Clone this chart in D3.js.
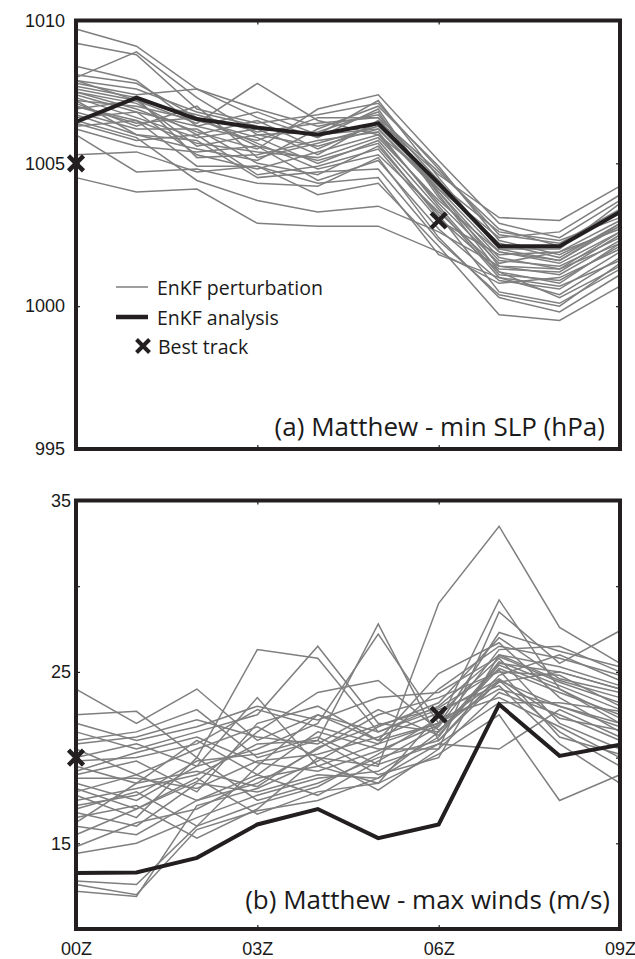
<!DOCTYPE html>
<html><head><meta charset="utf-8">
<script src="https://cdn.jsdelivr.net/npm/d3@7"></script>
<style>
body{margin:0;background:#fff;}
svg{display:block;}
</style></head><body>
<svg id="chart" width="635" height="959"></svg>
<script>
// ---- DATA ----
const hours = [0,1,2,3,4,5,6,7,8,9];
const xTickValues = [0,3,6,9];
const xTickLabels = ["00Z","03Z","06Z","09Z"];

const slpTicks = [995,1000,1005,1010];
const slpTickLabels = ["995","1000","1005","1010"];
const windTicks = [15,20,25,30,35];
const windTickLabels = {15:"15",25:"25",35:"35"};

const slpAnalysis = [1006.45,1007.3,1006.55,1006.25,1006.0,1006.4,1004.3,1002.1,1002.1,1003.3];
const slpBest = [[0,1005.0],[6,1003.0]];
const slpMembers = [
 [1009.7,1009.1,1007.6,1006.9,1006.3,1006.7,1004.4,1002.0,1001.6,1002.9],
 [1009.2,1008.8,1006.9,1006.4,1006.7,1007.1,1004.8,1002.5,1002.2,1003.4],
 [1008.0,1008.9,1007.3,1006.0,1005.6,1006.2,1004.0,1001.7,1001.3,1002.6],
 [1007.8,1007.4,1007.6,1006.6,1005.9,1006.9,1003.9,1001.2,1000.8,1002.2],
 [1007.6,1007.2,1006.4,1007.8,1006.5,1006.0,1003.6,1001.5,1001.9,1003.0],
 [1007.5,1006.9,1006.1,1005.5,1006.9,1007.4,1005.1,1002.9,1002.4,1003.7],
 [1007.3,1006.6,1005.9,1006.2,1005.3,1006.5,1004.6,1003.1,1003.0,1004.2],
 [1007.2,1007.0,1006.5,1005.9,1005.0,1005.8,1003.4,1001.0,1000.4,1001.7],
 [1007.1,1006.3,1007.0,1005.2,1005.7,1006.3,1004.2,1002.2,1001.7,1002.9],
 [1006.9,1007.2,1005.6,1006.0,1006.1,1006.8,1003.8,1001.6,1001.4,1002.4],
 [1006.8,1006.2,1006.2,1005.0,1004.6,1005.6,1003.2,1000.5,1000.1,1001.3],
 [1006.6,1006.8,1005.3,1004.8,1005.4,1006.0,1004.3,1002.6,1002.3,1003.1],
 [1006.4,1005.8,1006.0,1004.6,1004.9,1005.5,1003.0,1001.8,1001.9,1002.7],
 [1006.2,1005.6,1005.4,1005.6,1004.4,1005.1,1002.7,1000.9,1000.6,1001.9],
 [1006.0,1004.7,1004.8,1004.3,1004.2,1005.2,1002.4,1000.3,999.8,1001.1],
 [1005.3,1005.4,1004.7,1004.9,1003.9,1004.3,1002.1,999.7,999.5,1000.7],
 [1004.5,1004.0,1004.1,1002.9,1002.8,1002.8,1001.9,1000.8,1001.0,1002.0],
 [1007.9,1007.6,1006.8,1006.3,1006.0,1007.2,1004.5,1002.0,1002.0,1003.6],
 [1007.4,1006.8,1006.3,1005.8,1006.6,1006.6,1004.0,1001.4,1001.1,1002.3],
 [1007.0,1006.5,1005.7,1005.4,1005.2,1005.9,1003.7,1001.9,1001.5,1002.6],
 [1008.1,1007.8,1006.6,1005.7,1004.8,1005.3,1003.3,1001.3,1001.2,1002.5],
 [1007.7,1007.3,1005.2,1005.3,1005.8,1006.1,1003.5,1001.1,1000.9,1002.1],
 [1006.7,1006.0,1005.8,1004.5,1004.7,1004.8,1002.3,1000.4,1000.0,1001.5],
 [1007.5,1007.1,1006.0,1006.5,1005.5,1006.4,1004.1,1002.4,1002.6,1003.9],
 [1006.3,1006.5,1004.9,1004.9,1004.3,1004.5,1001.8,1001.0,1000.7,1001.6],
 [1007.9,1007.2,1006.7,1006.1,1006.4,1006.6,1004.7,1002.7,1002.1,1003.3],
 [1007.2,1006.0,1005.5,1005.1,1006.2,1007.0,1004.9,1002.3,1001.8,1002.8],
 [1006.5,1005.9,1004.4,1003.7,1003.3,1003.5,1002.6,1001.4,1001.3,1002.2],
 [1007.0,1006.4,1006.6,1005.6,1005.1,1005.7,1003.1,1001.2,1000.3,1001.4],
 [1008.4,1007.9,1006.3,1006.8,1006.0,1006.2,1004.1,1001.9,1001.6,1002.8]
];

const windAnalysis = [13.27,13.3,14.15,16.1,17.0,15.3,16.1,23.1,20.1,20.75];
const windBest = [[0,20.0],[6,22.5]];
const windMembers = [
 [24.0,22.0,24.0,21.0,22.5,21.0,22.0,24.5,23.0,22.0],
 [22.5,22.7,20.0,26.3,25.8,21.5,23.0,26.0,24.5,23.5],
 [21.5,20.5,21.5,22.5,26.5,22.0,21.5,25.5,25.0,24.0],
 [21.0,21.5,22.8,20.0,21.0,27.8,21.0,24.8,26.0,24.5],
 [20.5,19.0,20.5,21.8,20.0,19.5,29.0,33.5,27.6,25.5],
 [20.0,20.8,19.5,20.5,22.0,27.2,22.0,29.2,24.0,22.0],
 [19.5,18.5,21.0,19.0,21.5,20.5,20.5,28.5,25.5,27.4],
 [19.0,19.8,18.0,22.0,23.0,21.0,24.9,26.7,23.5,21.5],
 [18.5,17.5,19.5,23.5,19.5,18.5,22.5,25.8,22.0,20.5],
 [18.0,19.0,17.5,18.5,20.5,22.5,23.5,25.0,24.8,23.0],
 [17.8,16.5,20.0,17.5,18.5,20.0,21.0,24.5,21.5,19.5],
 [17.5,18.2,19.0,20.8,21.0,19.0,20.0,26.0,25.3,24.2],
 [17.0,18.0,16.0,19.5,22.5,21.5,22.8,24.2,20.8,18.5],
 [16.8,16.0,18.5,18.0,19.0,18.8,21.5,25.2,23.8,22.5],
 [16.5,17.2,15.3,17.0,20.0,18.1,20.5,23.8,22.5,21.0],
 [16.0,15.5,17.5,19.0,17.8,19.8,21.8,26.3,26.5,25.0],
 [15.5,17.0,18.8,16.7,18.0,18.5,20.2,22.5,17.5,19.0],
 [14.8,16.2,17.0,18.8,19.5,20.8,22.0,24.0,23.0,21.8],
 [14.4,15.0,16.5,17.8,18.8,19.2,21.2,25.6,24.2,22.8],
 [12.8,12.6,16.0,17.3,18.3,20.2,22.3,23.5,21.8,20.0],
 [12.6,12.0,15.8,16.9,17.5,18.8,20.8,20.5,22.8,21.2],
 [12.2,11.9,17.2,18.2,19.8,21.8,23.2,27.0,24.6,23.8],
 [20.8,21.2,22.2,21.2,20.8,22.8,21.3,25.4,24.0,22.3],
 [19.8,20.0,20.8,22.8,21.8,20.8,24.0,26.5,25.8,24.8],
 [18.8,18.8,18.2,19.8,20.2,21.2,22.6,24.6,22.3,21.6],
 [17.2,17.8,19.8,20.2,21.2,19.6,20.8,23.2,23.2,22.7],
 [22.0,21.0,21.8,23.0,22.2,23.5,23.8,25.9,24.4,23.2],
 [18.2,17.0,18.6,21.5,23.8,24.5,21.6,24.4,25.0,24.0],
 [16.2,18.5,19.2,18.3,20.6,21.9,22.9,25.1,21.2,20.2],
 [19.2,20.3,21.2,19.7,19.2,20.4,21.9,27.3,26.2,25.3]
];

const legendLabels = ["EnKF perturbation","EnKF analysis","Best track"];
const titles = ["(a) Matthew - min SLP (hPa)","(b) Matthew - max winds (m/s)"];

// ---- DRAW ----
const svg = d3.select("#chart");
const DARK = "#231f20", GRAY = "#7f7f7f";
const LABEL_FONT = "'Liberation Sans', Arial, sans-serif";
const TEXT_FONT = "'Open Sans', 'Noto Sans', sans-serif";

const x = d3.scaleLinear().domain([0,9]).range([76,620]);

function xMarker(g, cx, cy, r, w){
  g.append("path")
    .attr("d", `M${cx-r},${cy-r}L${cx+r},${cy+r}M${cx-r},${cy+r}L${cx+r},${cy-r}`)
    .attr("stroke", DARK).attr("stroke-width", w).attr("fill","none");
}

function panel(cfg){
  const y = d3.scaleLinear().domain(cfg.domain).range(cfg.range);
  const g = svg.append("g");
  const line = d3.line().x((d,i)=>x(hours[i])).y(d=>y(d));

  g.append("g").selectAll("path").data(cfg.members).join("path")
    .attr("d", line).attr("fill","none").attr("stroke", GRAY)
    .attr("stroke-width", 1.5).attr("stroke-linejoin","miter");
  g.append("path").datum(cfg.analysis).attr("d", line)
    .attr("fill","none").attr("stroke", DARK).attr("stroke-width", 4)
    .attr("stroke-linejoin","miter");

  const left = d3.axisLeft(y).tickValues(cfg.ticks).tickSize(-4).tickPadding(cfg.pad)
    .tickFormat(cfg.fmt);
  const right = d3.axisRight(y).tickValues(cfg.ticks).tickSize(-4).tickFormat("");
  const top = d3.axisTop(x).tickValues(xTickValues).tickSize(-4).tickFormat("");
  const bottom = d3.axisBottom(x).tickValues(xTickValues).tickSize(-4)
    .tickFormat(cfg.xlabels ? (d,i)=>xTickLabels[i] : "").tickPadding(13);

  const styleAxis = a => {
    a.select(".domain").remove();
    a.selectAll("line").attr("stroke", DARK).attr("stroke-width",1.2);
    a.selectAll("text").attr("fill","#1a1a1a").style("font-family",LABEL_FONT).style("font-size","18px");
  };
  g.append("g").attr("transform","translate(76,0)").call(left).call(styleAxis);
  g.append("g").attr("transform","translate(620,0)").call(right).call(styleAxis);
  g.append("g").attr("transform",`translate(0,${cfg.range[1]})`).call(top).call(styleAxis);
  const gb = g.append("g").attr("transform",`translate(0,${cfg.range[0]})`).call(bottom).call(styleAxis);
  gb.selectAll("text").attr("dy","0.71em");

  g.append("rect").attr("x",76).attr("y",cfg.range[1]).attr("width",544)
    .attr("height",cfg.range[0]-cfg.range[1]).attr("fill","none")
    .attr("stroke",DARK).attr("stroke-width",4);

  cfg.best.forEach(d => xMarker(g, x(d[0]), y(d[1]), 7.5, 4.5));

  g.append("text").attr("x", cfg.titleX).attr("y", cfg.titleY)
    .attr("text-anchor","end").attr("fill","#1a1a1a")
    .style("font-family",TEXT_FONT).style("font-size","26px").text(cfg.title);
  return {g, y};
}

panel({domain:[995,1010], range:[449,20.5], members:slpMembers, analysis:slpAnalysis,
  best:slpBest, ticks:slpTicks, fmt:(d,i)=>slpTickLabels[i], pad:11, xlabels:false,
  title:titles[0], titleX:605, titleY:436});
panel({domain:[10,35], range:[929,500.5], members:windMembers, analysis:windAnalysis,
  best:windBest, ticks:windTicks, fmt:d=>windTickLabels[d]||"", pad:5, xlabels:true,
  title:titles[1], titleX:610, titleY:909});

// legend
const lg = svg.append("g");
const rows = [287,317,346];
lg.append("line").attr("x1",116).attr("x2",148).attr("y1",rows[0]).attr("y2",rows[0])
  .attr("stroke",GRAY).attr("stroke-width",1.5);
lg.append("line").attr("x1",116).attr("x2",148).attr("y1",rows[1]).attr("y2",rows[1])
  .attr("stroke",DARK).attr("stroke-width",4.5);
xMarker(lg, 143, rows[2], 6.5, 4);
legendLabels.forEach((t,i)=>{
  lg.append("text").attr("x", i===2?158:157).attr("y", rows[i]+7.5)
    .attr("fill","#1a1a1a").style("font-family",TEXT_FONT).style("font-size","19.5px").text(t);
});
</script>
</body></html>
